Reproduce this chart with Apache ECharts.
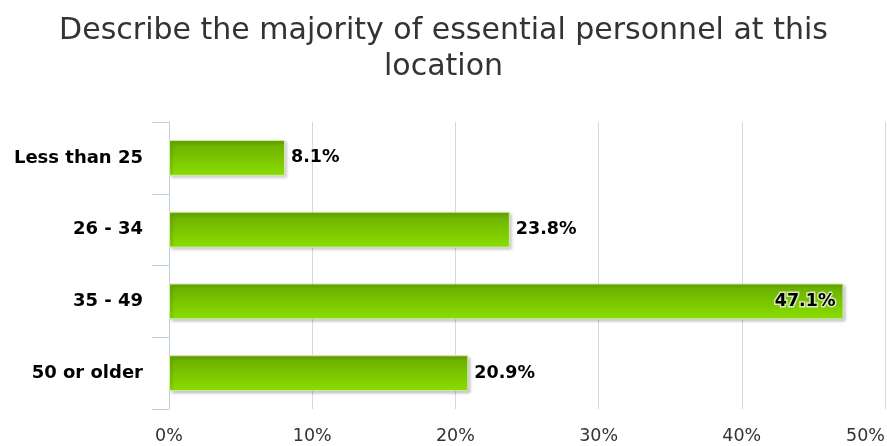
<!DOCTYPE html>
<html>
<head>
<meta charset="utf-8">
<script src="https://cdn.jsdelivr.net/npm/echarts@6/dist/echarts.min.js"></script>
<style>
  html, body { margin: 0; padding: 0; background: #fff; }
  #myChart { width: 887px; height: 446px; }
</style>
</head>
<body>
<div id="myChart"></div>
<script>
// categories top to bottom
var categories = ["Less than 25", "26 - 34", "35 - 49", "50 or older"];
var percents = [8.1, 23.8, 47.1, 20.9];
var xTicks = [0, 10, 20, 30, 40, 50];

var font = "DejaVu Sans";

var barData = percents.map(function (v, i) {
  var item = { value: v };
  // the longest bar keeps its label inside
  if (v > 40) {
    item.label = {
      position: "insideRight",
      offset: [-2, 0],
      textBorderColor: "rgba(255,255,255,0.7)",
      textBorderWidth: 3
    };
  }
  return item;
});

var myChart = echarts.init(document.getElementById("myChart"));
myChart.setOption({
  animation: false,
  title: {
    text: "Describe the majority of essential personnel at this\nlocation",
    left: "center",
    top: 8,
    textStyle: {
      fontFamily: font,
      fontSize: 30,
      fontWeight: "normal",
      color: "#333333",
      lineHeight: 36
    }
  },
  grid: {
    left: 169,
    right: 2,
    top: 122,
    bottom: 37,
    outerBoundsMode: "none"
  },
  xAxis: {
    type: "value",
    min: xTicks[0],
    max: xTicks[xTicks.length - 1],
    interval: 10,
    axisLine: { show: false },
    axisTick: { show: false },
    splitLine: {
      show: true,
      lineStyle: { color: "#d8d8d8", width: 1 }
    },
    axisLabel: {
      margin: 18,
      fontFamily: font,
      fontSize: 17.5,
      color: "#333333",
      formatter: "{value}%",
      showMinLabel: true,
      showMaxLabel: true,
      alignMaxLabel: "right"
    }
  },
  yAxis: {
    type: "category",
    data: categories,
    inverse: true,
    axisLine: {
      show: true,
      lineStyle: { color: "#c0d0e0", width: 1 }
    },
    axisTick: {
      show: true,
      length: 17,
      lineStyle: { color: "#c0d0e0", width: 1 }
    },
    axisLabel: {
      margin: 26,
      fontFamily: font,
      fontSize: 18,
      fontWeight: "bold",
      color: "#000000"
    }
  },
  series: [
    {
      type: "bar",
      data: barData,
      barWidth: "50%",
      itemStyle: {
        color: new echarts.graphic.LinearGradient(0, 0, 0, 1, [
          { offset: 0, color: "#6aab00" },
          { offset: 1, color: "#8ade00" }
        ]),
        borderColor: "#d4ebb0",
        borderWidth: 1,
        shadowColor: "rgba(0,0,0,0.25)",
        shadowBlur: 3,
        shadowOffsetX: 2,
        shadowOffsetY: 2
      },
      label: {
        show: true,
        position: "right",
        distance: 6,
        fontFamily: font,
        fontSize: 17.5,
        fontWeight: "bold",
        color: "#000000",
        formatter: function (p) { return p.value.toFixed(1) + "%"; }
      }
    }
  ]
});
</script>
</body>
</html>
